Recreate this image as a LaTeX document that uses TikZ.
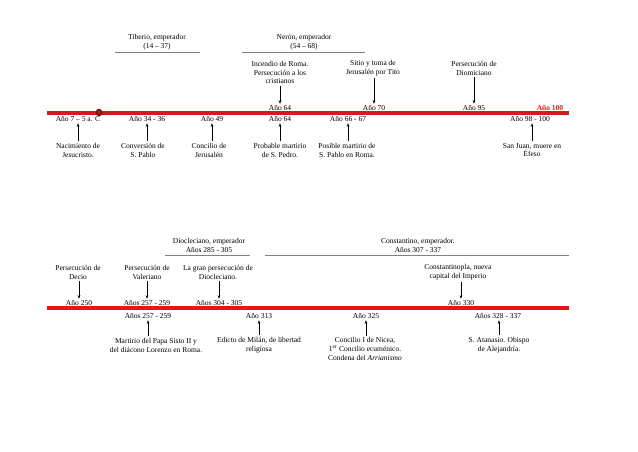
\documentclass[tikz,border=0pt]{standalone}
\usepackage{fontspec}
\setmainfont{Liberation Serif}
\usepackage{xcolor}
\usetikzlibrary{arrows.meta,shapes.geometric}

\definecolor{linered}{RGB}{204,28,36}
\definecolor{linered2}{RGB}{232,20,22}
\definecolor{headgray}{RGB}{130,130,130}

\begin{document}
\begin{tikzpicture}[x=1pt,y=-1pt,
  every node/.style={font=\fontsize{7.5}{8.9}\selectfont, align=center, inner sep=1.5pt},
  ev/.style={},
  yr/.style={},
  evarrow/.style={-{Stealth[length=3.6pt,width=2.6pt]}, line width=0.45pt},
  redline/.style={line width=4pt},
  headline/.style={headgray, line width=0.5pt}]
\useasboundingbox (0,0) rectangle (638,451);

% first timeline
\coordinate (l1s) at (47,113);
\coordinate (l1e) at (569,113);
\draw [redline, linered] (l1s) -- (l1e);
\node (birth) at (99,112.5) [ellipse, fill=linered!80!black, draw=black!70!red, line width=0.5pt, minimum width=6pt, minimum height=7pt, inner sep=0pt] {};

\node (tib) at (157,42.5) [] {Tiberio, emperador\\(14 – 37)};
\node (ner) at (304,42.5) [] {Nerón, emperador\\(54 – 68)};
\coordinate (tibA) at (115,52);
\coordinate (tibB) at (200,52);
\coordinate (nerA) at (242,52);
\coordinate (nerB) at (365,52);
\draw [headline] (tibA) -- (tibB);
\draw [headline] (nerA) -- (nerB);

\node (incendio) at (280,72.5) [ev] {Incendio de Roma.\\Persecución a los\\cristianos};
\node (sitio) at (373,68) [ev] {Sitio y toma de\\Jerusalén por Tito};
\node (domic) at (474,68) [ev] {Persecución de\\Diomiciano};

\node (a64t) at (280,108) [yr] {Año 64};
\node (a70) at (374,108) [yr] {Año 70};
\node (a95) at (474,108) [yr] {Año 95};
\node (a100) at (550,108) [yr, text=linered2, font=\fontsize{7.5}{8.9}\selectfont\bfseries] {Año 100};

\node (a7) at (78,119) [yr] {Año 7 – 5 a. C};
\node (a34) at (147,119) [yr] {Año 34 - 36};
\node (a49) at (212,119) [yr] {Año 49};
\node (a64b) at (280,119) [yr] {Año 64};
\node (a66) at (348,119) [yr] {Año 66 - 67};
\node (a98) at (530,119) [yr] {Año 98 - 100};

\node (nacim) at (78,150) [ev] {Nacimiento de\\Jesucristo.};
\node (conv) at (143,150) [ev] {Conversión de\\S. Pablo};
\node (concj) at (209,150) [ev] {Concilio de\\Jerusalén};
\node (pedro) at (280,150) [ev] {Probable martirio\\de S. Pedro.};
\node (pablo) at (347,150) [ev] {Posible martirio de\\S. Pablo en Roma.};
\node (juan) at (532,150) [ev] {San Juan, muere en\\Éfeso};

\draw [evarrow] (incendio) -- (a64t);
\draw [evarrow] (sitio.south -| a70) -- (a70);
\draw [evarrow] (domic) -- (a95);
\draw [evarrow] (nacim) -- (a7);
\draw [evarrow] (conv.north -| a34) -- (a34);
\draw [evarrow] (concj.north -| a49) -- (a49);
\draw [evarrow] (pedro) -- (a64b);
\draw [evarrow] (pablo.north -| a66) -- (a66);
\draw [evarrow] (juan) -- (juan |- a98.south);

% second timeline
\coordinate (l2s) at (47,308);
\coordinate (l2e) at (569,308);
\draw [redline, linered2] (l2s) -- (l2e);

\node (dio) at (209,245.5) [] {Diocleciano, emperador\\Años 285 - 305};
\node (con) at (418,245.5) [] {Constantino, emperador.\\Años 307 - 337};
\coordinate (dioA) at (165,255);
\coordinate (dioB) at (250,255);
\coordinate (conA) at (265,255);
\coordinate (conB) at (569,255);
\draw [headline] (dioA) -- (dioB);
\draw [headline] (conA) -- (conB);

\node (decio) at (78,272.5) [ev] {Persecución de\\Decio};
\node (valer) at (147,272.5) [ev] {Persecución de\\Valeriano};
\node (granp) at (218,272.5) [ev] {La gran persecución de\\Diocleciano.};
\node (cpla) at (458,272.5) [ev] {Constantinopla, nueva\\capital del Imperio};

\node (a250) at (79,303) [yr] {Año 250};
\node (a257t) at (147,303) [yr] {Años 257 - 259};
\node (a304) at (219,303) [yr] {Años 304 - 305};
\node (a330) at (461,303) [yr] {Año 330};

\node (a257b) at (148,316) [yr] {Años 257 - 259};
\node (a313) at (259,316) [yr] {Año 313};
\node (a325) at (366,316) [yr] {Año 325};
\node (a328) at (498,316) [yr] {Años 328 - 337};

\node (sisto) at (156,345) [ev] {Martirio del Papa Sisto II y\\del diácono Lorenzo en Roma.};
\node (milan) at (259,345) [ev] {Edicto de Milán, de libertad\\religiosa};
\node (nicea) at (365,349) [ev] {Concilio I de Nicea,\\1\textsuperscript{er} Concilio ecuménico.\\Condena del \textit{Arrianismo}};
\node (atan) at (499,345) [ev] {S. Atanasio. Obispo\\de Alejandría.};

\draw [evarrow] (decio.south -| a250) -- (a250);
\draw [evarrow] (valer) -- (a257t);
\draw [evarrow] (granp.south -| a304) -- (a304);
\draw [evarrow] (cpla.south -| a330) -- (a330);
\draw [evarrow] (sisto.north -| a257b) -- (a257b);
\draw [evarrow] (milan) -- (a313);
\draw [evarrow] (nicea.north -| a325) -- (a325);
\draw [evarrow] (atan) -- (atan |- a328.south);
\end{tikzpicture}
\end{document}
